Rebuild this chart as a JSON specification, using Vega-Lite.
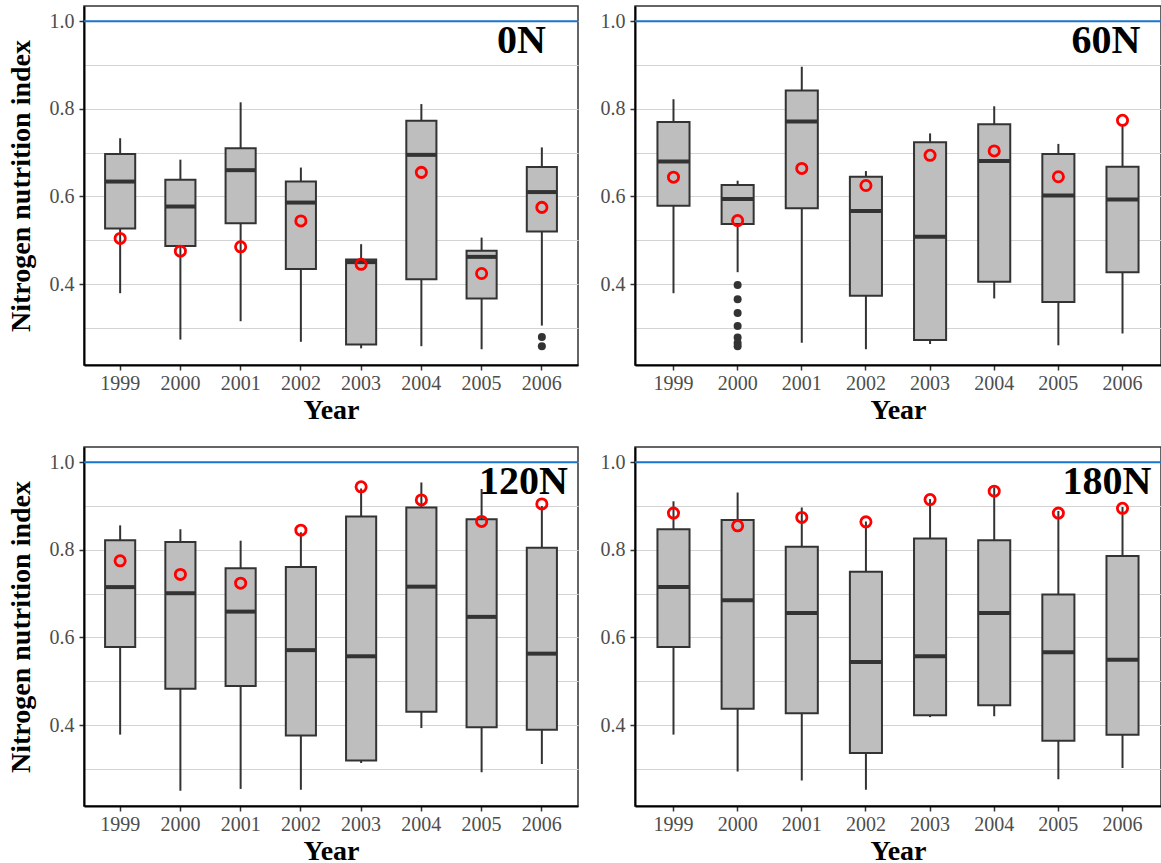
{
  "$schema": "https://vega.github.io/schema/vega-lite/v6.json",
  "background": "white",
  "padding": {"left": 6, "top": 5, "right": 0, "bottom": 0},
  "config": {
    "view": {"stroke": "#333333", "strokeWidth": 1.5},
    "font": "Liberation Serif",
    "axis": {"labelFont": "Liberation Serif", "labelFontSize": 20, "labelColor": "#4D4D4D", "titleFont": "Liberation Serif", "titleFontSize": 28, "titleFontWeight": "bold", "titleColor": "#000000", "domainColor": "#000000", "domainWidth": 2, "tickColor": "#333333", "tickWidth": 1.5, "tickSize": 5},
    "axisX": {"grid": false, "labelAngle": 0, "titlePadding": 3, "labelPadding": 3},
    "axisY": {"gridColor": "#D4D4D4", "gridWidth": 1, "titlePadding": 14, "labelPadding": 5},
    "text": {"font": "Liberation Serif", "fontSize": 40, "fontWeight": "bold", "color": "#000000", "align": "right", "baseline": "alphabetic"}
  },
  "datasets": {
    "boxes": [
      {"panel": "0N", "year": "1999", "lower": 0.379, "q1": 0.527, "median": 0.634, "q3": 0.697, "upper": 0.733, "mean": 0.504},
      {"panel": "0N", "year": "2000", "lower": 0.273, "q1": 0.487, "median": 0.577, "q3": 0.638, "upper": 0.684, "mean": 0.475},
      {"panel": "0N", "year": "2001", "lower": 0.315, "q1": 0.539, "median": 0.660, "q3": 0.710, "upper": 0.815, "mean": 0.485},
      {"panel": "0N", "year": "2002", "lower": 0.268, "q1": 0.434, "median": 0.586, "q3": 0.634, "upper": 0.666, "mean": 0.544},
      {"panel": "0N", "year": "2003", "lower": 0.253, "q1": 0.262, "median": 0.450, "q3": 0.456, "upper": 0.491, "mean": 0.445},
      {"panel": "0N", "year": "2004", "lower": 0.258, "q1": 0.411, "median": 0.695, "q3": 0.773, "upper": 0.811, "mean": 0.655},
      {"panel": "0N", "year": "2005", "lower": 0.251, "q1": 0.367, "median": 0.462, "q3": 0.476, "upper": 0.506, "mean": 0.424},
      {"panel": "0N", "year": "2006", "lower": 0.305, "q1": 0.520, "median": 0.610, "q3": 0.667, "upper": 0.712, "mean": 0.575},
      {"panel": "60N", "year": "1999", "lower": 0.379, "q1": 0.579, "median": 0.680, "q3": 0.770, "upper": 0.822, "mean": 0.644},
      {"panel": "60N", "year": "2000", "lower": 0.427, "q1": 0.537, "median": 0.594, "q3": 0.626, "upper": 0.636, "mean": 0.545},
      {"panel": "60N", "year": "2001", "lower": 0.266, "q1": 0.573, "median": 0.771, "q3": 0.842, "upper": 0.896, "mean": 0.664},
      {"panel": "60N", "year": "2002", "lower": 0.251, "q1": 0.373, "median": 0.567, "q3": 0.645, "upper": 0.658, "mean": 0.625},
      {"panel": "60N", "year": "2003", "lower": 0.263, "q1": 0.272, "median": 0.508, "q3": 0.724, "upper": 0.744, "mean": 0.694},
      {"panel": "60N", "year": "2004", "lower": 0.367, "q1": 0.405, "median": 0.681, "q3": 0.765, "upper": 0.806, "mean": 0.704},
      {"panel": "60N", "year": "2005", "lower": 0.260, "q1": 0.359, "median": 0.602, "q3": 0.697, "upper": 0.720, "mean": 0.645},
      {"panel": "60N", "year": "2006", "lower": 0.287, "q1": 0.427, "median": 0.593, "q3": 0.668, "upper": 0.765, "mean": 0.774},
      {"panel": "120N", "year": "1999", "lower": 0.378, "q1": 0.578, "median": 0.715, "q3": 0.822, "upper": 0.856, "mean": 0.775},
      {"panel": "120N", "year": "2000", "lower": 0.250, "q1": 0.483, "median": 0.701, "q3": 0.818, "upper": 0.847, "mean": 0.744},
      {"panel": "120N", "year": "2001", "lower": 0.254, "q1": 0.489, "median": 0.659, "q3": 0.758, "upper": 0.821, "mean": 0.724},
      {"panel": "120N", "year": "2002", "lower": 0.252, "q1": 0.376, "median": 0.571, "q3": 0.761, "upper": 0.840, "mean": 0.845},
      {"panel": "120N", "year": "2003", "lower": 0.313, "q1": 0.319, "median": 0.557, "q3": 0.876, "upper": 0.940, "mean": 0.944},
      {"panel": "120N", "year": "2004", "lower": 0.393, "q1": 0.430, "median": 0.716, "q3": 0.897, "upper": 0.954, "mean": 0.914},
      {"panel": "120N", "year": "2005", "lower": 0.292, "q1": 0.395, "median": 0.647, "q3": 0.870, "upper": 0.939, "mean": 0.865},
      {"panel": "120N", "year": "2006", "lower": 0.311, "q1": 0.389, "median": 0.563, "q3": 0.805, "upper": 0.900, "mean": 0.905},
      {"panel": "180N", "year": "1999", "lower": 0.378, "q1": 0.578, "median": 0.715, "q3": 0.847, "upper": 0.911, "mean": 0.884},
      {"panel": "180N", "year": "2000", "lower": 0.294, "q1": 0.437, "median": 0.685, "q3": 0.868, "upper": 0.931, "mean": 0.855},
      {"panel": "180N", "year": "2001", "lower": 0.273, "q1": 0.427, "median": 0.656, "q3": 0.807, "upper": 0.897, "mean": 0.874},
      {"panel": "180N", "year": "2002", "lower": 0.252, "q1": 0.336, "median": 0.544, "q3": 0.750, "upper": 0.865, "mean": 0.864},
      {"panel": "180N", "year": "2003", "lower": 0.418, "q1": 0.422, "median": 0.557, "q3": 0.826, "upper": 0.916, "mean": 0.915},
      {"panel": "180N", "year": "2004", "lower": 0.420, "q1": 0.445, "median": 0.656, "q3": 0.822, "upper": 0.943, "mean": 0.934},
      {"panel": "180N", "year": "2005", "lower": 0.276, "q1": 0.364, "median": 0.566, "q3": 0.698, "upper": 0.889, "mean": 0.884},
      {"panel": "180N", "year": "2006", "lower": 0.302, "q1": 0.378, "median": 0.549, "q3": 0.786, "upper": 0.898, "mean": 0.895}
    ],
    "outliers": [
      {"panel": "0N", "year": "2006", "value": 0.279},
      {"panel": "0N", "year": "2006", "value": 0.258},
      {"panel": "60N", "year": "2000", "value": 0.398},
      {"panel": "60N", "year": "2000", "value": 0.365},
      {"panel": "60N", "year": "2000", "value": 0.334},
      {"panel": "60N", "year": "2000", "value": 0.304},
      {"panel": "60N", "year": "2000", "value": 0.278},
      {"panel": "60N", "year": "2000", "value": 0.265},
      {"panel": "60N", "year": "2000", "value": 0.258}
    ],
    "labels": [
      {"panel": "0N", "label": "0N", "ref": 1},
      {"panel": "60N", "label": "60N", "ref": 1},
      {"panel": "120N", "label": "120N", "ref": 1},
      {"panel": "180N", "label": "180N", "ref": 1}
    ]
  },
  "columns": 2,
  "spacing": {"row": 82, "column": 57},
  "bounds": "flush",
  "concat": [
    {
      "width": 494, "height": 359,
      "layer": [
        {"data": {"name": "labels"}, "transform": [{"filter": "datum.panel === '0N'"}], "mark": {"type": "rule", "color": "#1874CD", "strokeWidth": 2},
         "encoding": {"y": {"field": "ref", "type": "quantitative", "scale": {"domain": [0.215, 1.035], "nice": false, "zero": false}, "axis": {"title": "Nitrogen nutrition index", "values": [0.3, 0.4, 0.5, 0.6, 0.7, 0.8, 0.9, 1.0], "labelExpr": "round(datum.value*10) % 2 === 0 ? format(datum.value, '.1f') : ''", "tickOpacity": {"condition": {"test": "round(datum.value*10) % 2 === 0", "value": 1}, "value": 0}}}}},
        {"data": {"name": "boxes"}, "transform": [{"filter": "datum.panel === '0N'"}], "mark": {"type": "rule", "color": "#333333", "strokeWidth": 2},
         "encoding": {"x": {"field": "year", "type": "nominal", "scale": {"paddingInner": 0, "paddingOuter": 0.1}, "axis": {"title": "Year"}}, "y": {"field": "lower", "type": "quantitative"}, "y2": {"field": "upper"}}},
        {"data": {"name": "boxes"}, "transform": [{"filter": "datum.panel === '0N'"}], "mark": {"type": "bar", "width": {"band": 0.5}, "fill": "#BEBEBE", "stroke": "#333333", "strokeWidth": 2},
         "encoding": {"x": {"field": "year", "type": "nominal"}, "y": {"field": "q1", "type": "quantitative"}, "y2": {"field": "q3"}}},
        {"data": {"name": "boxes"}, "transform": [{"filter": "datum.panel === '0N'"}], "mark": {"type": "tick", "color": "#333333", "thickness": 4, "size": 30, "opacity": 1},
         "encoding": {"x": {"field": "year", "type": "nominal"}, "y": {"field": "median", "type": "quantitative"}}},
        {"data": {"name": "outliers"}, "transform": [{"filter": "datum.panel === '0N'"}], "mark": {"type": "point", "filled": true, "color": "#333333", "size": 64, "opacity": 1},
         "encoding": {"x": {"field": "year", "type": "nominal"}, "y": {"field": "value", "type": "quantitative"}}},
        {"data": {"name": "boxes"}, "transform": [{"filter": "datum.panel === '0N'"}], "mark": {"type": "point", "filled": false, "stroke": "#FF0000", "strokeWidth": 2.8, "size": 105, "opacity": 1},
         "encoding": {"x": {"field": "year", "type": "nominal"}, "y": {"field": "mean", "type": "quantitative"}}},
        {"data": {"name": "labels"}, "transform": [{"filter": "datum.panel === '0N'"}], "mark": {"type": "text", "dx": 4},
         "encoding": {"x": {"datum": "2006"}, "y": {"datum": 0.928}, "text": {"field": "label"}}}
      ]
    },
    {
      "width": 526, "height": 359,
      "layer": [
        {"data": {"name": "labels"}, "transform": [{"filter": "datum.panel === '60N'"}], "mark": {"type": "rule", "color": "#1874CD", "strokeWidth": 2},
         "encoding": {"y": {"field": "ref", "type": "quantitative", "scale": {"domain": [0.215, 1.035], "nice": false, "zero": false}, "axis": {"title": null, "values": [0.3, 0.4, 0.5, 0.6, 0.7, 0.8, 0.9, 1.0], "labelExpr": "round(datum.value*10) % 2 === 0 ? format(datum.value, '.1f') : ''", "tickOpacity": {"condition": {"test": "round(datum.value*10) % 2 === 0", "value": 1}, "value": 0}}}}},
        {"data": {"name": "boxes"}, "transform": [{"filter": "datum.panel === '60N'"}], "mark": {"type": "rule", "color": "#333333", "strokeWidth": 2},
         "encoding": {"x": {"field": "year", "type": "nominal", "scale": {"paddingInner": 0, "paddingOuter": 0.1}, "axis": {"title": "Year"}}, "y": {"field": "lower", "type": "quantitative"}, "y2": {"field": "upper"}}},
        {"data": {"name": "boxes"}, "transform": [{"filter": "datum.panel === '60N'"}], "mark": {"type": "bar", "width": {"band": 0.5}, "fill": "#BEBEBE", "stroke": "#333333", "strokeWidth": 2},
         "encoding": {"x": {"field": "year", "type": "nominal"}, "y": {"field": "q1", "type": "quantitative"}, "y2": {"field": "q3"}}},
        {"data": {"name": "boxes"}, "transform": [{"filter": "datum.panel === '60N'"}], "mark": {"type": "tick", "color": "#333333", "thickness": 4, "size": 32, "opacity": 1},
         "encoding": {"x": {"field": "year", "type": "nominal"}, "y": {"field": "median", "type": "quantitative"}}},
        {"data": {"name": "outliers"}, "transform": [{"filter": "datum.panel === '60N'"}], "mark": {"type": "point", "filled": true, "color": "#333333", "size": 64, "opacity": 1},
         "encoding": {"x": {"field": "year", "type": "nominal"}, "y": {"field": "value", "type": "quantitative"}}},
        {"data": {"name": "boxes"}, "transform": [{"filter": "datum.panel === '60N'"}], "mark": {"type": "point", "filled": false, "stroke": "#FF0000", "strokeWidth": 2.8, "size": 105, "opacity": 1},
         "encoding": {"x": {"field": "year", "type": "nominal"}, "y": {"field": "mean", "type": "quantitative"}}},
        {"data": {"name": "labels"}, "transform": [{"filter": "datum.panel === '60N'"}], "mark": {"type": "text", "dx": 18},
         "encoding": {"x": {"datum": "2006"}, "y": {"datum": 0.928}, "text": {"field": "label"}}}
      ]
    },
    {
      "width": 494, "height": 359,
      "layer": [
        {"data": {"name": "labels"}, "transform": [{"filter": "datum.panel === '120N'"}], "mark": {"type": "rule", "color": "#1874CD", "strokeWidth": 2},
         "encoding": {"y": {"field": "ref", "type": "quantitative", "scale": {"domain": [0.215, 1.035], "nice": false, "zero": false}, "axis": {"title": "Nitrogen nutrition index", "values": [0.3, 0.4, 0.5, 0.6, 0.7, 0.8, 0.9, 1.0], "labelExpr": "round(datum.value*10) % 2 === 0 ? format(datum.value, '.1f') : ''", "tickOpacity": {"condition": {"test": "round(datum.value*10) % 2 === 0", "value": 1}, "value": 0}}}}},
        {"data": {"name": "boxes"}, "transform": [{"filter": "datum.panel === '120N'"}], "mark": {"type": "rule", "color": "#333333", "strokeWidth": 2},
         "encoding": {"x": {"field": "year", "type": "nominal", "scale": {"paddingInner": 0, "paddingOuter": 0.1}, "axis": {"title": "Year"}}, "y": {"field": "lower", "type": "quantitative"}, "y2": {"field": "upper"}}},
        {"data": {"name": "boxes"}, "transform": [{"filter": "datum.panel === '120N'"}], "mark": {"type": "bar", "width": {"band": 0.5}, "fill": "#BEBEBE", "stroke": "#333333", "strokeWidth": 2},
         "encoding": {"x": {"field": "year", "type": "nominal"}, "y": {"field": "q1", "type": "quantitative"}, "y2": {"field": "q3"}}},
        {"data": {"name": "boxes"}, "transform": [{"filter": "datum.panel === '120N'"}], "mark": {"type": "tick", "color": "#333333", "thickness": 4, "size": 30, "opacity": 1},
         "encoding": {"x": {"field": "year", "type": "nominal"}, "y": {"field": "median", "type": "quantitative"}}},
        {"data": {"name": "boxes"}, "transform": [{"filter": "datum.panel === '120N'"}], "mark": {"type": "point", "filled": false, "stroke": "#FF0000", "strokeWidth": 2.8, "size": 105, "opacity": 1},
         "encoding": {"x": {"field": "year", "type": "nominal"}, "y": {"field": "mean", "type": "quantitative"}}},
        {"data": {"name": "labels"}, "transform": [{"filter": "datum.panel === '120N'"}], "mark": {"type": "text", "dx": 26},
         "encoding": {"x": {"datum": "2006"}, "y": {"datum": 0.928}, "text": {"field": "label"}}}
      ]
    },
    {
      "width": 526, "height": 359,
      "layer": [
        {"data": {"name": "labels"}, "transform": [{"filter": "datum.panel === '180N'"}], "mark": {"type": "rule", "color": "#1874CD", "strokeWidth": 2},
         "encoding": {"y": {"field": "ref", "type": "quantitative", "scale": {"domain": [0.215, 1.035], "nice": false, "zero": false}, "axis": {"title": null, "values": [0.3, 0.4, 0.5, 0.6, 0.7, 0.8, 0.9, 1.0], "labelExpr": "round(datum.value*10) % 2 === 0 ? format(datum.value, '.1f') : ''", "tickOpacity": {"condition": {"test": "round(datum.value*10) % 2 === 0", "value": 1}, "value": 0}}}}},
        {"data": {"name": "boxes"}, "transform": [{"filter": "datum.panel === '180N'"}], "mark": {"type": "rule", "color": "#333333", "strokeWidth": 2},
         "encoding": {"x": {"field": "year", "type": "nominal", "scale": {"paddingInner": 0, "paddingOuter": 0.1}, "axis": {"title": "Year"}}, "y": {"field": "lower", "type": "quantitative"}, "y2": {"field": "upper"}}},
        {"data": {"name": "boxes"}, "transform": [{"filter": "datum.panel === '180N'"}], "mark": {"type": "bar", "width": {"band": 0.5}, "fill": "#BEBEBE", "stroke": "#333333", "strokeWidth": 2},
         "encoding": {"x": {"field": "year", "type": "nominal"}, "y": {"field": "q1", "type": "quantitative"}, "y2": {"field": "q3"}}},
        {"data": {"name": "boxes"}, "transform": [{"filter": "datum.panel === '180N'"}], "mark": {"type": "tick", "color": "#333333", "thickness": 4, "size": 32, "opacity": 1},
         "encoding": {"x": {"field": "year", "type": "nominal"}, "y": {"field": "median", "type": "quantitative"}}},
        {"data": {"name": "boxes"}, "transform": [{"filter": "datum.panel === '180N'"}], "mark": {"type": "point", "filled": false, "stroke": "#FF0000", "strokeWidth": 2.8, "size": 105, "opacity": 1},
         "encoding": {"x": {"field": "year", "type": "nominal"}, "y": {"field": "mean", "type": "quantitative"}}},
        {"data": {"name": "labels"}, "transform": [{"filter": "datum.panel === '180N'"}], "mark": {"type": "text", "dx": 29},
         "encoding": {"x": {"datum": "2006"}, "y": {"datum": 0.928}, "text": {"field": "label"}}}
      ]
    }
  ]
}
